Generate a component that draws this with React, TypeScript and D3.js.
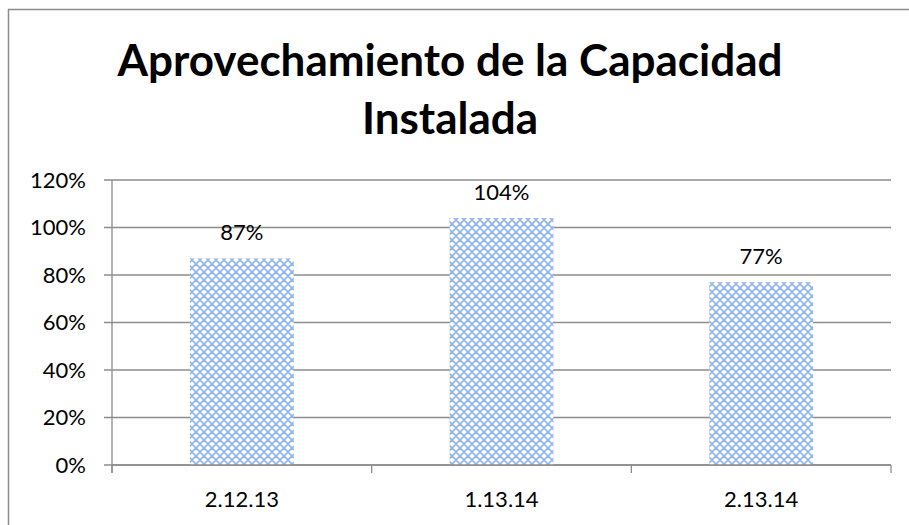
import React from 'react';
import * as d3 from 'd3';

const categories = ['2.12.13', '1.13.14', '2.13.14'];
const values = [0.87, 1.04, 0.77];
const yTicks = [0, 0.2, 0.4, 0.6, 0.8, 1.0, 1.2];
const titleLines = ['Aprovechamiento de la Capacidad', 'Instalada'];

const W = 909;
const H = 525;
const plot = { left: 112, right: 891, top: 180, bottom: 465 };
const font = 'Lato, Carlito, Calibri, sans-serif';
const grey = '#8c8c8c';
const labelSize = 22;

const App = () => {
  const x = d3
    .scaleBand<string>()
    .domain(categories)
    .range([plot.left, plot.right])
    .paddingInner(0.6)
    .paddingOuter(0.3);
  const band = d3.scaleBand<string>().domain(categories).range([plot.left, plot.right]);
  const y = d3.scaleLinear().domain([0, 1.2]).range([plot.bottom, plot.top]);
  const pct = d3.format('.0%');

  const bounds = [...categories.map((c) => band(c) as number), plot.right];

  return (
    <svg
      width={W}
      height={H}
      style={{ position: 'absolute', left: 0, top: 0, display: 'block' }}
    >
      <defs>
        <pattern id="diamond" width="8" height="8" patternUnits="userSpaceOnUse">
          <rect width="8" height="8" fill="#ffffff" />
          <path
            d="M0,4 L4,0 L8,4 L4,8 Z"
            fill="none"
            stroke="#8db3ec"
            strokeWidth="1.7"
          />
        </pattern>
      </defs>
      <rect width={W} height={H} fill="#fff" />
      <rect x={8.5} y={9.5} width={1000} height={1000} fill="none" stroke={grey} strokeWidth={1.5} />

      {titleLines.map((t, i) => (
        <text
          key={t}
          x={450}
          y={76 + i * 58}
          textAnchor="middle"
          fontFamily={font}
          fontWeight="bold"
          fontSize={44}
          fill="#000"
        >
          {t}
        </text>
      ))}

      {yTicks.map((t) => (
        <g key={t}>
          <line x1={104} x2={plot.right} y1={y(t)} y2={y(t)} stroke={grey} strokeWidth={1.3} />
          <text
            x={86}
            y={y(t)}
            dy="0.35em"
            textAnchor="end"
            fontFamily={font}
            fontSize={labelSize}
            fill="#000"
          >
            {pct(t)}
          </text>
        </g>
      ))}

      {categories.map((c, i) => (
        <g key={c}>
          <rect
            x={x(c)}
            y={y(values[i])}
            width={x.bandwidth()}
            height={plot.bottom - y(values[i])}
            fill="url(#diamond)"
          />
          <text
            x={(x(c) as number) + x.bandwidth() / 2}
            y={y(values[i]) - 18}
            textAnchor="middle"
            fontFamily={font}
            fontSize={labelSize}
            fill="#000"
          >
            {pct(values[i])}
          </text>
          <text
            x={(band(c) as number) + band.bandwidth() / 2}
            y={507}
            textAnchor="middle"
            fontFamily={font}
            fontSize={labelSize}
            fill="#000"
          >
            {c}
          </text>
        </g>
      ))}

      <line x1={plot.left} x2={plot.left} y1={plot.top} y2={plot.bottom + 8} stroke={grey} strokeWidth={1.3} />
      <line x1={plot.left} x2={plot.right} y1={plot.bottom} y2={plot.bottom} stroke={grey} strokeWidth={1.3} />
      {bounds.map((b) => (
        <line key={b} x1={b} x2={b} y1={plot.bottom} y2={plot.bottom + 8} stroke={grey} strokeWidth={1.3} />
      ))}
    </svg>
  );
};

export default App;
